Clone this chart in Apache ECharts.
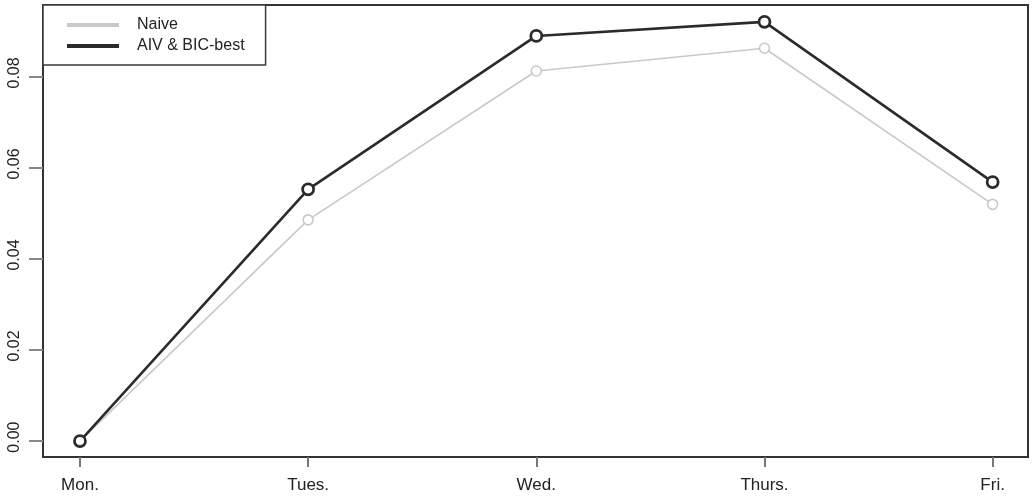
<!DOCTYPE html>
<html>
<head>
<meta charset="utf-8">
<script src="https://cdn.jsdelivr.net/npm/echarts@6/dist/echarts.min.js"></script>
<style>
  html, body { margin: 0; padding: 0; background: #fff; }
  #chart { width: 1032px; height: 497px; }
</style>
</head>
<body>
<div id="chart"></div>
<script>
// Weekday categories along the x axis
const days = ['Mon.', 'Tues.', 'Wed.', 'Thurs.', 'Fri.'];
// Y axis tick values
const yTicks = [0, 0.02, 0.04, 0.06, 0.08];
// Series values per weekday
const naive = [0, 0.0486, 0.0813, 0.0863, 0.0520];
const aivBicBest = [0, 0.0553, 0.0890, 0.0921, 0.0569];

const FONT = '"Liberation Sans", Arial, sans-serif';
const DARK = '#2b2b2b';
const LIGHT = '#c9c9c9';

const chart = echarts.init(document.getElementById('chart'), null, { renderer: 'canvas' });

const toPairs = arr => arr.map((v, i) => [i, v]);

chart.setOption({
  animation: false,
  backgroundColor: '#fff',
  grid: {
    left: 43, top: 5, right: 4, bottom: 40,
    show: true, borderColor: '#333', borderWidth: 2, backgroundColor: 'transparent'
  },
  legend: {
    left: 43, top: 5,
    orient: 'vertical',
    backgroundColor: '#fff',
    borderColor: '#3a3a3a', borderWidth: 1.5,
    padding: [11, 21, 10, 24],
    itemGap: 3,
    itemWidth: 50, itemHeight: 2,
    icon: 'rect',
    textStyle: { fontFamily: FONT, fontSize: 16, color: '#222', lineHeight: 18, padding: [0, 0, 0, 14] },
    data: ['Naive', 'AIV & BIC-best']
  },
  xAxis: {
    type: 'value',
    min: -0.162, max: 4.155,
    splitLine: { show: false },
    axisLine: { show: true, onZero: false, lineStyle: { color: '#333', width: 2 } },
    axisTick: { show: true, length: 10, lineStyle: { color: '#777', width: 2 }, customValues: [0, 1, 2, 3, 4] },
    axisLabel: {
      customValues: [0, 1, 2, 3, 4],
      margin: 20,
      fontFamily: FONT, fontSize: 17, color: '#222',
      formatter: v => days[Math.round(v)]
    }
  },
  yAxis: {
    type: 'value',
    min: -0.0035, max: 0.0958,
    splitLine: { show: false },
    axisLine: { show: true, onZero: false, lineStyle: { color: '#333', width: 2 } },
    axisTick: { show: true, length: 14, lineStyle: { color: '#888', width: 2 }, customValues: yTicks },
    axisLabel: {
      customValues: yTicks,
      rotate: 90,
      margin: 20,
      padding: [0, 0, 0, 8],
      fontFamily: FONT, fontSize: 16, color: '#222',
      formatter: v => v.toFixed(2)
    }
  },
  series: [
    {
      name: 'Naive',
      type: 'line',
      data: toPairs(naive),
      z: 2,
      color: LIGHT,
      lineStyle: { color: LIGHT, width: 1.6 },
      symbol: 'circle', symbolSize: 10, showAllSymbol: true,
      itemStyle: { color: '#fff', borderColor: LIGHT, borderWidth: 1.6 }
    },
    {
      name: 'AIV & BIC-best',
      type: 'line',
      data: toPairs(aivBicBest),
      z: 3,
      color: DARK,
      lineStyle: { color: DARK, width: 2.6 },
      symbol: 'circle', symbolSize: 11, showAllSymbol: true,
      itemStyle: { color: '#fff', borderColor: DARK, borderWidth: 2.8 }
    }
  ]
});
</script>
</body>
</html>
